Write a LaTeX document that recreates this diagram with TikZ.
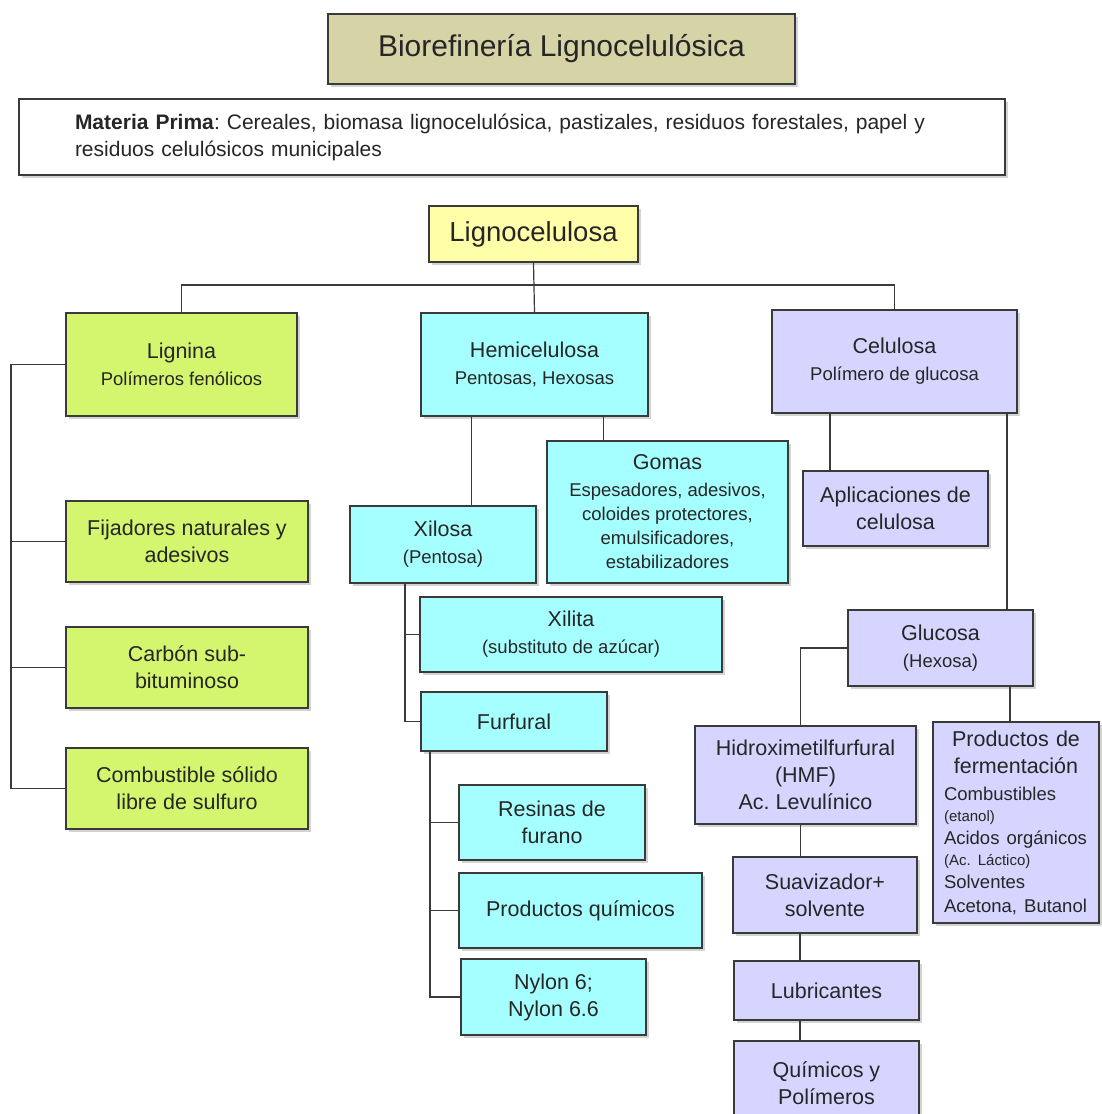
\documentclass[tikz,border=0pt]{standalone}
\usepackage{fontspec}
\setmainfont{Liberation Sans}
\usepackage{tikz}
\usetikzlibrary{shadows}
\definecolor{Ct}{HTML}{D6D3A6}
\definecolor{Cy}{HTML}{FFFFAA}
\definecolor{Cg}{HTML}{D4F56E}
\definecolor{Cc}{HTML}{A6FFFF}
\definecolor{Cl}{HTML}{D5D5FF}
\definecolor{Cb}{HTML}{3A3A3A}
\newcommand{\chico}[1]{{\fontsize{18.5}{24}\selectfont #1}}
\newcommand{\mini}[1]{{\fontsize{15}{20}\selectfont #1}}
\frenchspacing

\begin{document}
\begin{tikzpicture}[x=1pt,y=-1pt]
\tikzstyle{caja}=[draw=Cb, line width=1.3pt, shape=rectangle, align=center, text=black!85, inner sep=0pt, font=\fontsize{21.5}{27}\selectfont, drop shadow={shadow xshift=2.5pt, shadow yshift=-2.5pt, opacity=0.35}]
\tikzstyle{lin}=[draw=Cb, line width=1.2pt]
\useasboundingbox (0,0) rectangle (1101,1114);
%
\node[caja, fill=Ct, minimum width=467, minimum height=70, font=\fontsize{30}{34}\selectfont](tit) at (561.5,49){Biorefinería Lignocelulósica};
\node[caja, fill=white, minimum width=986, minimum height=76, text width=874, align=left, font=\fontsize{21}{27}\selectfont](mat) at (512,137){\textbf{Materia Prima}: Cereales, biomasa lignocelulósica, pastizales, residuos forestales, papel y\\residuos celulósicos municipales};
\node[caja, fill=Cy, minimum width=209, minimum height=56, font=\fontsize{27.5}{32}\selectfont](lc) at (533.5,234){Lignocelulosa};
%
\node[caja, fill=Cg, minimum width=231, minimum height=103](lig) at (181.5,364.5){Lignina\\\chico{Polímeros fenólicos}};
\node[caja, fill=Cc, minimum width=227, minimum height=103](hemi) at (534.5,364.5){Hemicelulosa\\\chico{Pentosas, Hexosas}};
\node[caja, fill=Cl, minimum width=245, minimum height=103](cel) at (894.5,361.5){Celulosa\\\chico{Polímero de glucosa}};
%
\node[caja, fill=Cg, minimum width=242, minimum height=81](fij) at (187,541.5){Fijadores naturales y\\adesivos};
\node[caja, fill=Cg, minimum width=242, minimum height=81](carb) at (187,667.5){Carbón sub-\\bituminoso};
\node[caja, fill=Cg, minimum width=242, minimum height=81](comb) at (187,788.5){Combustible sólido\\libre de sulfuro};
%
\node[caja, fill=Cc, minimum width=186, minimum height=77](xil) at (443,544.5){Xilosa\\\chico{(Pentosa)}};
\node[caja, fill=Cc, minimum width=241, minimum height=142](gom) at (667.5,512){Gomas\\\chico{Espesadores, adesivos,}\\[-3pt]\chico{coloides protectores,}\\[-3pt]\chico{emulsificadores,}\\[-3pt]\chico{estabilizadores}};
\node[caja, fill=Cc, minimum width=302, minimum height=75](xit) at (571,634.5){Xilita\\\chico{(substituto de azúcar)}};
\node[caja, fill=Cc, minimum width=186, minimum height=59](fur) at (514,721.5){Furfural};
\node[caja, fill=Cc, minimum width=186, minimum height=75](res) at (552,822.5){Resinas de\\furano};
\node[caja, fill=Cc, minimum width=243, minimum height=75](pq) at (580.5,910.5){Productos químicos};
\node[caja, fill=Cc, minimum width=185, minimum height=76](nyl) at (553.5,997){Nylon 6;\\Nylon 6.6};
%
\node[caja, fill=Cl, minimum width=185, minimum height=75](apl) at (895.5,508.5){Aplicaciones de\\celulosa};
\node[caja, fill=Cl, minimum width=185, minimum height=76](glu) at (940.5,648){Glucosa\\\chico{(Hexosa)}};
\node[caja, fill=Cl, minimum width=221, minimum height=98](hmf) at (805.5,775){Hidroximetilfurfural\\(HMF)\\Ac. Levulínico};
\node[caja, fill=Cl, minimum width=166, minimum height=201, text width=144, align=left](ferm) at (1016,822.5){{\centering Productos de\\fermentación\par}\raggedright
\chico{Combustibles}\\[-6pt]\mini{(etanol)}\\[-4pt]\chico{Acidos orgánicos}\\[-6pt]\mini{(Ac. Láctico)}\\[-4pt]\chico{Solventes}\\[-3pt]\chico{Acetona, Butanol}};
\node[caja, fill=Cl, minimum width=184, minimum height=76](suav) at (825,895){Suavizador+\\solvente};
\node[caja, fill=Cl, minimum width=185, minimum height=59](lub) at (826.5,990.5){Lubricantes};
\node[caja, fill=Cl, minimum width=185, minimum height=84](quim) at (826.5,1083){Químicos y\\Polímeros};
%
\coordinate (bus) at (533,285);
\coordinate (tronco) at (11,367);
\draw[lin] (lig.north) |- (bus) -| (cel.north);
\draw[lin] (lc.south) -- (hemi.north);
\draw[lin] (lig.west) -- (lig.west -| tronco) -- (comb.west -| tronco) -- (comb.west);
\draw[lin] (fij.west) -- (fij.west -| tronco);
\draw[lin] (carb.west) -- (carb.west -| tronco);
%
\draw[lin] ([xshift=-63pt]hemi.south) -- ([xshift=-63pt]hemi.south |- xil.north);
\draw[lin] ([xshift=69pt]hemi.south) -- ([xshift=69pt]hemi.south |- gom.north);
\draw[lin] ([xshift=-38pt]xil.south) |- (xit.west);
\draw[lin] ([xshift=-38pt]xil.south) |- (fur.west);
\draw[lin] ([xshift=-84pt]fur.south) |- (res.west);
\draw[lin] ([xshift=-84pt]fur.south) |- (pq.west);
\draw[lin] ([xshift=-84pt]fur.south) |- (nyl.west);
%
\draw[lin] ([xshift=-64.5pt]cel.south) -- ([xshift=-64.5pt]cel.south |- apl.north);
\draw[lin] ([xshift=112.5pt]cel.south) -- ([xshift=112.5pt]cel.south |- glu.north);
\draw[lin] (glu.west) -| ([xshift=-5pt]hmf.north);
\draw[lin] ([xshift=69.5pt]glu.south) -- ([xshift=69.5pt]glu.south |- ferm.north);
\draw[lin] ([xshift=-5pt]hmf.south) -- ([xshift=-5pt]hmf.south |- suav.north);
\draw[lin] ([xshift=-25pt]suav.south) -- ([xshift=-25pt]suav.south |- lub.north);
\draw[lin] ([xshift=-26.5pt]lub.south) -- ([xshift=-26.5pt]lub.south |- quim.north);
%
\end{tikzpicture}
\end{document}
